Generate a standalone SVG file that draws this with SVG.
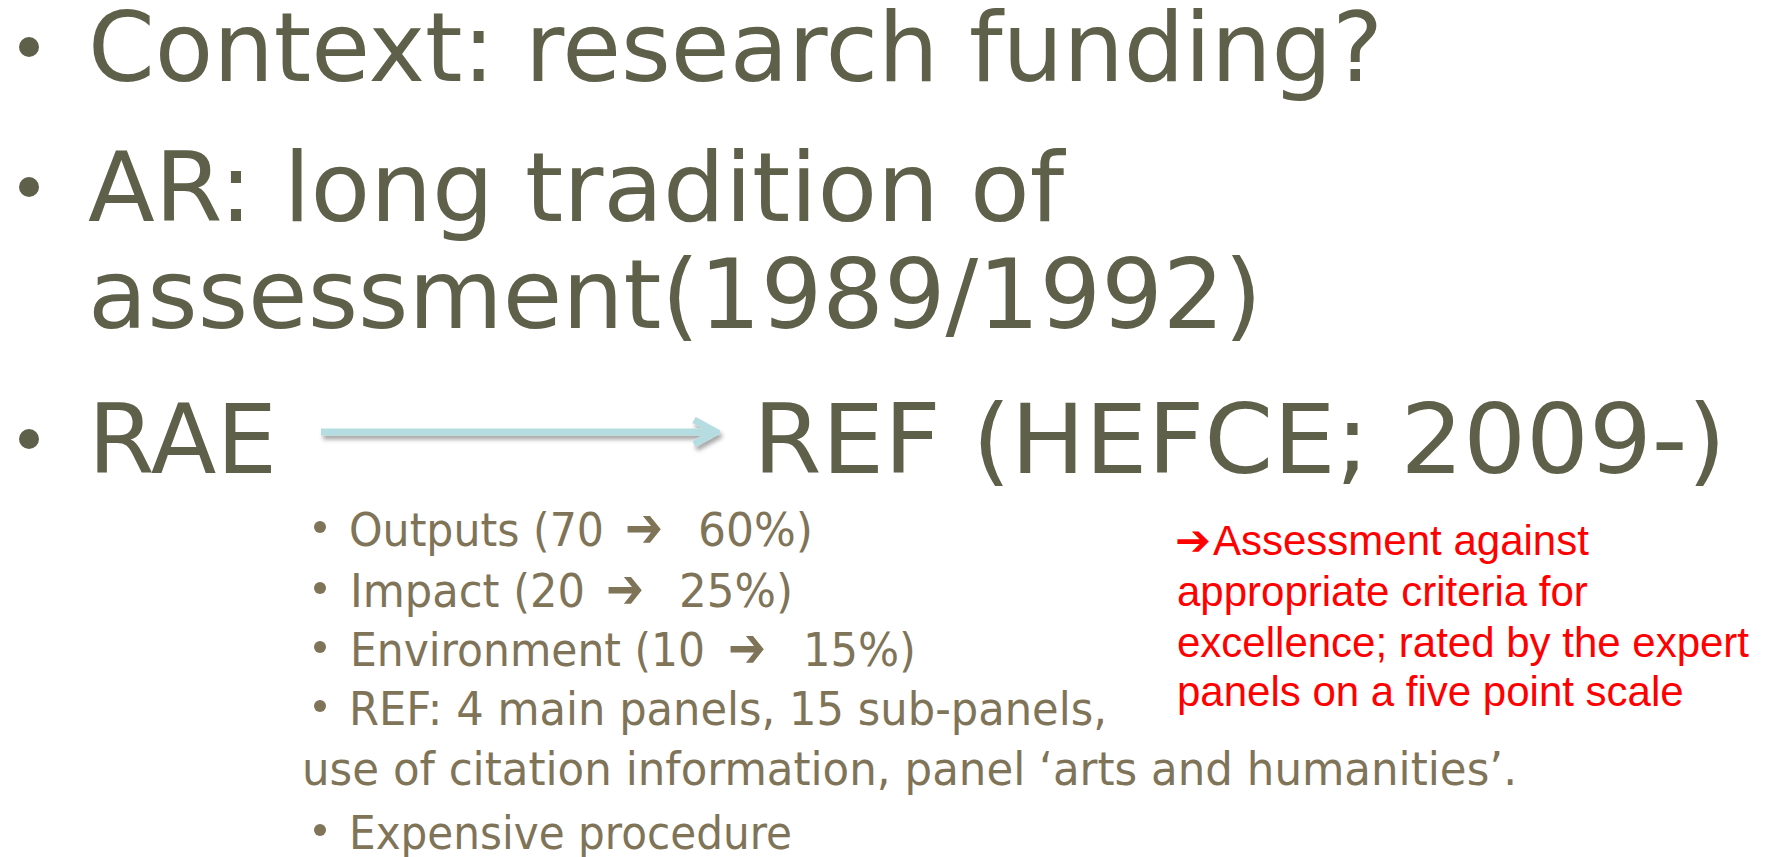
<svg xmlns="http://www.w3.org/2000/svg" width="1775" height="857" viewBox="0 0 1775 857">
<defs>
<style>
.main{font-family:"DejaVu Sans","Verdana",sans-serif;font-size:96px;fill:#5F604A}
.sub{font-family:"DejaVu Sans","Verdana",sans-serif;font-size:46px;fill:#7F7458}
.red{font-family:"Liberation Sans",Arial,sans-serif;font-size:42px;fill:#FF0000}
.arw{font-family:"DejaVu Sans",sans-serif;font-weight:bold}
.sarw{font-size:56px}
.mb{fill:#5F604A}
.sb{fill:#7F7458}
</style>
<filter id="sh" filterUnits="userSpaceOnUse" x="300" y="400" width="450" height="70">
<feDropShadow dx="2" dy="4" stdDeviation="2" flood-color="#000" flood-opacity="0.35"/>
</filter>
<marker id="ah" viewBox="0 0 30 30" refX="26" refY="15" markerWidth="30" markerHeight="30" markerUnits="userSpaceOnUse" orient="auto">
<path d="M4,3 L26,15 L4,27" fill="none" stroke="#B5DDE1" stroke-width="7"/>
</marker>
</defs>
<rect width="1775" height="857" fill="#FFFFFF"/>
<g id="bullet1">
<circle class="mb" cx="29" cy="47" r="10"/>
<text class="main" x="88" y="81" textLength="1295" lengthAdjust="spacingAndGlyphs">Context: research funding?</text>
</g>
<g id="bullet2">
<circle class="mb" cx="29" cy="187" r="10"/>
<text class="main" x="88" y="221" textLength="976" lengthAdjust="spacingAndGlyphs">AR: long tradition of</text>
<text class="main" x="88" y="328" textLength="1174" lengthAdjust="spacingAndGlyphs">assessment(1989/1992)</text>
</g>
<g id="rae">
<circle class="mb" cx="29" cy="439" r="10"/>
<text class="main" x="88" y="473" textLength="189" lengthAdjust="spacingAndGlyphs">RAE</text>
</g>
<g id="ref">
<text class="main" x="753" y="473" textLength="973" lengthAdjust="spacingAndGlyphs">REF (HEFCE; 2009-)</text>
</g>
<g id="connectors">
<line x1="321" y1="432" x2="716" y2="432" stroke="#B5DDE1" stroke-width="7" marker-end="url(#ah)" filter="url(#sh)"/>
</g>
<g id="subbullets">
<circle class="sb" cx="320" cy="527" r="6"/>
<text class="sub" x="349" y="546" textLength="255" lengthAdjust="spacingAndGlyphs">Outputs (70</text>
<text class="sub arw sarw" x="625" y="547" textLength="38" lengthAdjust="spacingAndGlyphs">➔</text>
<text class="sub" x="698" y="546" textLength="115" lengthAdjust="spacingAndGlyphs">60%)</text>
<circle class="sb" cx="320" cy="588" r="6"/>
<text class="sub" x="350" y="607" textLength="235" lengthAdjust="spacingAndGlyphs">Impact (20</text>
<text class="sub arw sarw" x="606" y="608" textLength="38" lengthAdjust="spacingAndGlyphs">➔</text>
<text class="sub" x="679" y="607" textLength="114" lengthAdjust="spacingAndGlyphs">25%)</text>
<circle class="sb" cx="320" cy="647" r="6"/>
<text class="sub" x="350" y="666" textLength="355" lengthAdjust="spacingAndGlyphs">Environment (10</text>
<text class="sub arw sarw" x="728" y="667" textLength="38" lengthAdjust="spacingAndGlyphs">➔</text>
<text class="sub" x="803" y="666" textLength="113" lengthAdjust="spacingAndGlyphs">15%)</text>
<circle class="sb" cx="320" cy="706" r="6"/>
<text class="sub" x="349" y="725" textLength="758" lengthAdjust="spacingAndGlyphs">REF: 4 main panels, 15 sub-panels,</text>
<text class="sub" x="302" y="785" textLength="1215" lengthAdjust="spacingAndGlyphs">use of citation information, panel ‘arts and humanities’.</text>
<circle class="sb" cx="320" cy="830" r="6"/>
<text class="sub" x="349" y="849" textLength="443" lengthAdjust="spacingAndGlyphs">Expensive procedure</text>
</g>
<g id="note">
<text class="red arw" x="1175" y="555" font-size="48" textLength="36" lengthAdjust="spacingAndGlyphs">➔</text>
<text class="red" x="1213" y="555">Assessment against</text>
<text class="red" x="1177" y="606">appropriate criteria for</text>
<text class="red" x="1177" y="657">excellence; rated by the expert</text>
<text class="red" x="1177" y="706">panels on a five point scale</text>
</g>
</svg>
